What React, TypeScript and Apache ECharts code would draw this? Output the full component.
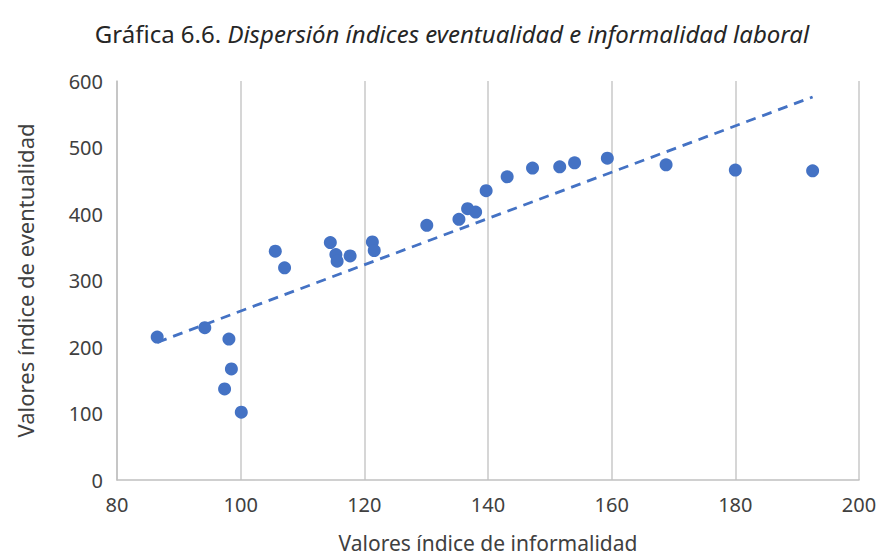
import React, { useEffect, useRef } from "react";
import * as echarts from "echarts";

const informalidad = [86.5, 94.2, 98.1, 98.5, 97.4, 100.1, 105.6, 107.1, 114.5, 115.4, 115.6, 117.7, 121.3, 121.6, 130.1, 135.3, 136.7, 138.0, 139.7, 143.1, 147.2, 151.6, 154.0, 159.3, 168.8, 180.0, 192.5];
const eventualidad = [215, 229, 212, 167, 137, 102, 344, 319, 357, 339, 329, 337, 358, 345, 383, 392, 408, 403, 435, 456, 469, 471, 477, 484, 474, 466, 465];
const trendX = [86.5, 192.5];
const trendY = [207, 576];
const xTicks = [80, 100, 120, 140, 160, 180, 200];
const yTicks = [0, 100, 200, 300, 400, 500, 600];

const FONT = "'Noto Sans', 'Open Sans', sans-serif";
const BLUE = "#4472C4";

export default function App() {
  const ref = useRef<HTMLDivElement>(null);
  useEffect(() => {
    if (!ref.current) return;
    const chart = echarts.init(ref.current, undefined, { renderer: "svg" });
    const points = informalidad.map((x, i) => [x, eventualidad[i]]);
    const trend = trendX.map((x, i) => [x, trendY[i]]);
    chart.setOption({
      animation: false,
      title: {
        text: "{n|Gráfica 6.6. }{i|Dispersión índices eventualidad e informalidad laboral}",
        left: 447,
        textAlign: "center",
        top: 16,
        textStyle: {
          rich: {
            n: { fontFamily: FONT, fontSize: 24, color: "#262626", fontStyle: "normal", fontWeight: "normal" },
            i: { fontFamily: FONT, fontSize: 24, color: "#262626", fontStyle: "italic", fontWeight: "normal" },
          },
        },
      },
      grid: { left: 117, right: 20, top: 81, bottom: 76, containLabel: false, outerBoundsMode: "none" },
      xAxis: {
        type: "value",
        min: xTicks[0],
        max: xTicks[xTicks.length - 1],
        interval: 20,
        name: "Valores índice de informalidad",
        nameLocation: "middle",
        nameGap: 52,
        nameTextStyle: { fontFamily: FONT, fontSize: 21, color: "#404040" },
        axisLine: { show: true, lineStyle: { color: "#c0c0c0", width: 1.5 } },
        axisTick: { show: false },
        axisLabel: { fontFamily: FONT, fontSize: 20, color: "#404040", margin: 14 },
        splitLine: { show: true, lineStyle: { color: "#c8c8c8", width: 1.5 } },
      },
      yAxis: {
        type: "value",
        min: yTicks[0],
        max: yTicks[yTicks.length - 1],
        interval: 100,
        name: "Valores índice de eventualidad",
        nameLocation: "middle",
        nameGap: 81,
        nameTextStyle: { fontFamily: FONT, fontSize: 22, color: "#404040" },
        axisLine: { show: true, lineStyle: { color: "#c0c0c0", width: 1.5 } },
        axisTick: { show: false },
        axisLabel: { fontFamily: FONT, fontSize: 20, color: "#404040", margin: 14 },
        splitLine: { show: false },
      },
      series: [
        {
          type: "line",
          data: trend,
          symbol: "none",
          lineStyle: { color: BLUE, width: 2.8, type: [10, 7] },
          z: 1,
        },
        {
          type: "scatter",
          data: points,
          symbolSize: 13,
          itemStyle: { color: BLUE, opacity: 1 },
          z: 2,
        },
      ],
    });
    return () => chart.dispose();
  }, []);
  return (
    <div
      ref={ref}
      style={{ position: "absolute", left: 0, top: 0, width: 879, height: 556, background: "#fff" }}
    />
  );
}
